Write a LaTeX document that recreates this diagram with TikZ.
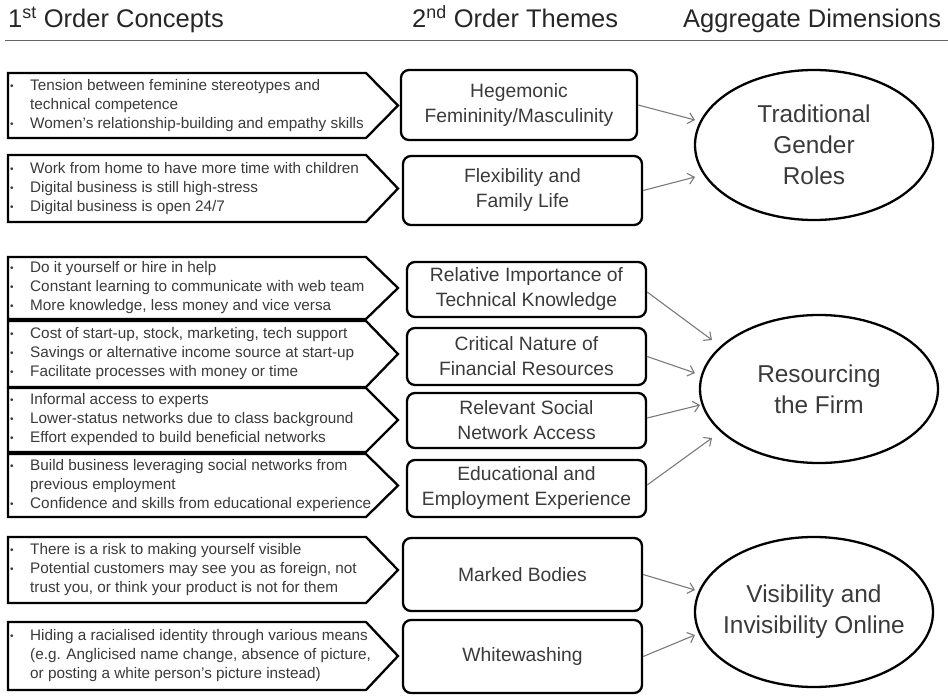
\documentclass[tikz,border=0pt]{standalone}
\usepackage{fontspec}
\setmainfont{Liberation Sans}
\usetikzlibrary{shapes.geometric,arrows.meta}
\definecolor{txt}{HTML}{3A3A3A}
\definecolor{hdrc}{HTML}{262626}
\definecolor{conn}{HTML}{7A7A7A}
\newcommand\bul{\makebox[22pt][l]{\hspace{2pt}\raisebox{1.2pt}{\fontsize{10}{10}\selectfont\textbullet}}}
\newcommand\ind{\makebox[22pt][l]{}}
\tikzset{
  cshape/.style={draw=black, line width=2.3pt, line join=miter, fill=white},
  ctext/.style={anchor=west, inner sep=0pt, align=left, text=txt, font=\fontsize{15.3}{19}\selectfont},
  theme/.style={draw=black, line width=2.3pt, rounded corners=8pt, align=center, text=txt, font=\fontsize{19.3}{25}\selectfont, inner sep=0pt},
  dimen/.style={ellipse, draw=black, line width=2.3pt, inner sep=0pt, minimum width=238pt, minimum height=150pt},
  dimtext/.style={align=center, text=txt, font=\fontsize{24.4}{31}\selectfont, inner sep=0pt},
  conn/.style={draw=conn, line width=1.1pt, -{Straight Barb[length=6pt,width=11pt]}},
  hdr/.style={anchor=base west, inner sep=0pt, text=hdrc, font=\fontsize{25.5}{28}\selectfont},
  hline/.style={draw=gray!80!black, line width=1.8pt}
}
\newcommand\cpt[4]{%
  \draw[cshape] (8,#2) -- (366,#2) -- (398,{(#2+#3)/2}) -- (366,#3) -- (8,#3) -- cycle;
  \node[ctext] (#1) at (8,{(#2+#3)/2}) {#4};}
\begin{document}
\begin{tikzpicture}[x=1pt,y=-1pt]
\useasboundingbox (0,0) rectangle (948,698);
% headers
\node[hdr] (h1) at (8,28) {1\textsuperscript{st} Order Concepts};
\node[hdr] (h2) at (412,28) {2\textsuperscript{nd} Order Themes};
\node[hdr] (h3) at (683,28) {Aggregate Dimensions};
\coordinate (l1) at (5,40.5);
\coordinate (l2) at (948,40.5);
\draw[hline] (l1) -- (l2);
% first order concepts
\cpt{c1}{73}{138}{\bul Tension between feminine stereotypes and\\\ind technical competence\\\bul Women’s relationship-building and empathy skills}
\cpt{c2}{155}{222}{\bul Work from home to have more time with children\\\bul Digital business is still high-stress\\\bul Digital business is open 24/7}
\cpt{c3}{257}{319}{\bul Do it yourself or hire in help\\\bul Constant learning to communicate with web team\\\bul More knowledge, less money and vice versa}
\cpt{c4}{321}{387}{\bul Cost of start-up, stock, marketing, tech support\\\bul Savings or alternative income source at start-up\\\bul Facilitate processes with money or time}
\cpt{c5}{388}{452}{\bul Informal access to experts\\\bul Lower-status networks due to class background\\\bul Effort expended to build beneficial networks}
\cpt{c6}{454}{517}{\bul Build business leveraging social networks from\\\ind previous employment\\\bul Confidence and skills from educational experience}
\cpt{c7}{537}{603}{\bul There is a risk to making yourself visible\\\bul Potential customers may see you as foreign, not\\\ind trust you, or think your product is not for them}
\cpt{c8}{622}{690}{\bul Hiding a racialised identity through various means\\\ind (e.g. Anglicised name change, absence of picture,\\\ind or posting a white person’s picture instead)}
% second order themes
\node[theme, minimum width=236pt, minimum height=70pt] (t1) at (519,105) {Hegemonic\\Femininity/Masculinity};
\node[theme, minimum width=239pt, minimum height=69pt] (t2) at (522.5,190.5) {Flexibility and\\Family Life};
\node[theme, minimum width=239pt, minimum height=55pt] (t3) at (526.5,289.5) {Relative Importance of\\Technical Knowledge};
\node[theme, minimum width=239pt, minimum height=57pt] (t4) at (526.5,356.5) {Critical Nature of\\Financial Resources};
\node[theme, minimum width=239pt, minimum height=55pt] (t5) at (526.5,420.5) {Relevant Social\\Network Access};
\node[theme, minimum width=239pt, minimum height=57pt] (t6) at (526.5,488.5) {Educational and\\Employment Experience};
\node[theme, minimum width=239pt, minimum height=73pt] (t7) at (522.5,574.5) {Marked Bodies};
\node[theme, minimum width=239pt, minimum height=73pt] (t8) at (522.5,656.5) {Whitewashing};
% aggregate dimensions
\node[dimen] (d1) at (814,145) {};
\node[dimtext] (d1t) at (d1.center) {Traditional\\Gender\\Roles};
\node[dimen, minimum height=148pt] (d2) at (819,389) {};
\node[dimtext] (d2t) at (d2.center) {Resourcing\\the Firm};
\node[dimen] (d3) at (814,612) {};
\node[dimtext] (d3t) at (d3.center) {Visibility and\\Invisibility Online};
% arrow end points
\coordinate (e1) at (695,120);
\coordinate (e2) at (695,177);
\coordinate (e3) at (712,340);
\coordinate (e4) at (695,373);
\coordinate (e5) at (700,405);
\coordinate (e6) at (712,438);
\coordinate (e7) at (695,590);
\coordinate (e8) at (695,635);
\draw[conn] (t1.east) -- (e1);
\draw[conn] (t2.east) -- (e2);
\draw[conn] ([yshift=-2.5pt]t3.east) -- (e3);
\draw[conn] (t4.east) -- (e4);
\draw[conn] ([yshift=2.5pt]t5.east) -- (e5);
\draw[conn] ([yshift=3.5pt]t6.east) -- (e6);
\draw[conn] (t7.east) -- (e7);
\draw[conn] (t8.east) -- (e8);
\end{tikzpicture}
\end{document}
